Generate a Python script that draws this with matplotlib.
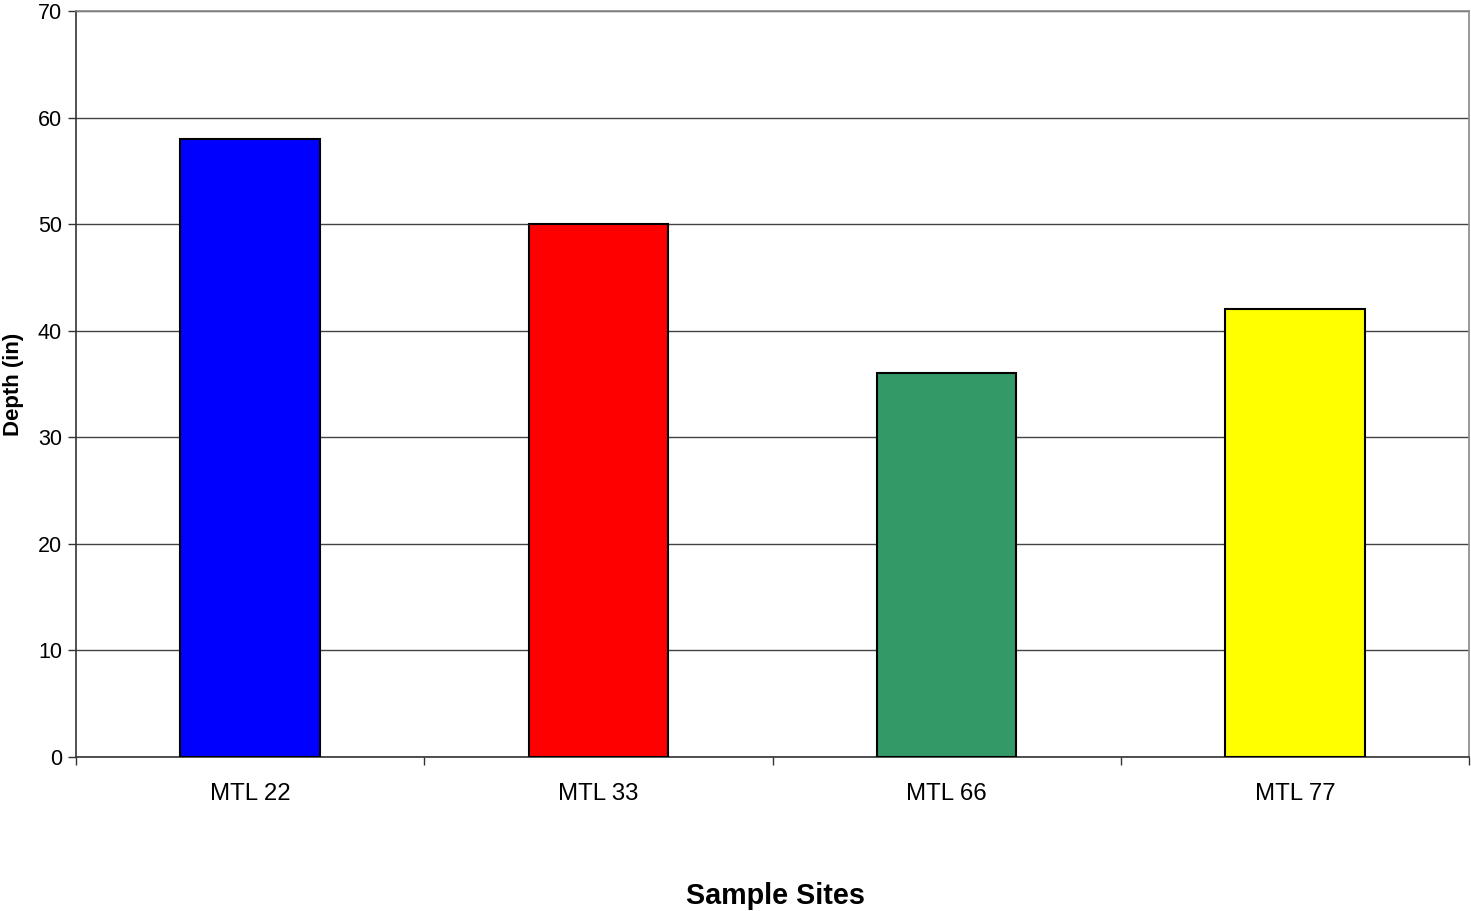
import matplotlib
matplotlib.use("Agg")
import matplotlib.pyplot as plt
from matplotlib.ticker import FixedLocator

sites = ["MTL 22", "MTL 33", "MTL 66", "MTL 77"]
depths = [58, 50, 36, 42]
bar_colors = ["#0000FF", "#FF0000", "#339966", "#FFFF00"]
y_ticks = [0, 10, 20, 30, 40, 50, 60, 70]

plt.rcParams["font.family"] = ["Liberation Sans", "DejaVu Sans"]

W, H = 1471, 911
fig = plt.figure(figsize=(W / 100, H / 100), dpi=100)
ax = fig.add_axes([76 / W, (H - 757) / H, (1469 - 76) / W, (757 - 11) / H])

x = list(range(len(sites)))
ax.bar(x, depths, width=0.4, color=bar_colors, edgecolor="black", linewidth=1.5, zorder=3)

ax.set_xlim(-0.5, len(sites) - 0.5)
ax.set_ylim(0, 70)
ax.set_yticks(y_ticks)
ax.set_xticks(x)
ax.set_xticklabels(sites)
ax.xaxis.set_minor_locator(FixedLocator([i - 0.5 for i in range(len(sites) + 1)]))
ax.tick_params(axis="x", which="major", length=0, pad=18.5, labelsize=17.3)
ax.tick_params(axis="x", which="minor", length=6, width=1, color="#333333")
ax.tick_params(axis="y", length=6, width=1, color="#333333", labelsize=15.5, pad=4)

ax.yaxis.grid(True, color="#444444", linewidth=1, zorder=0)

for side in ("left", "bottom"):
    ax.spines[side].set_color("#333333")
    ax.spines[side].set_linewidth(1.2)
for side in ("top", "right"):
    ax.spines[side].set_color("#888888")
    ax.spines[side].set_linewidth(1.2)

fig.text(775 / W, 1 - 896 / H, "Sample Sites", fontsize=20.7, fontweight="bold",
         ha="center", va="center")
ax.set_ylabel("Depth (in)", fontsize=16, fontweight="bold", labelpad=10)

fig.savefig("out.png", dpi=100)
